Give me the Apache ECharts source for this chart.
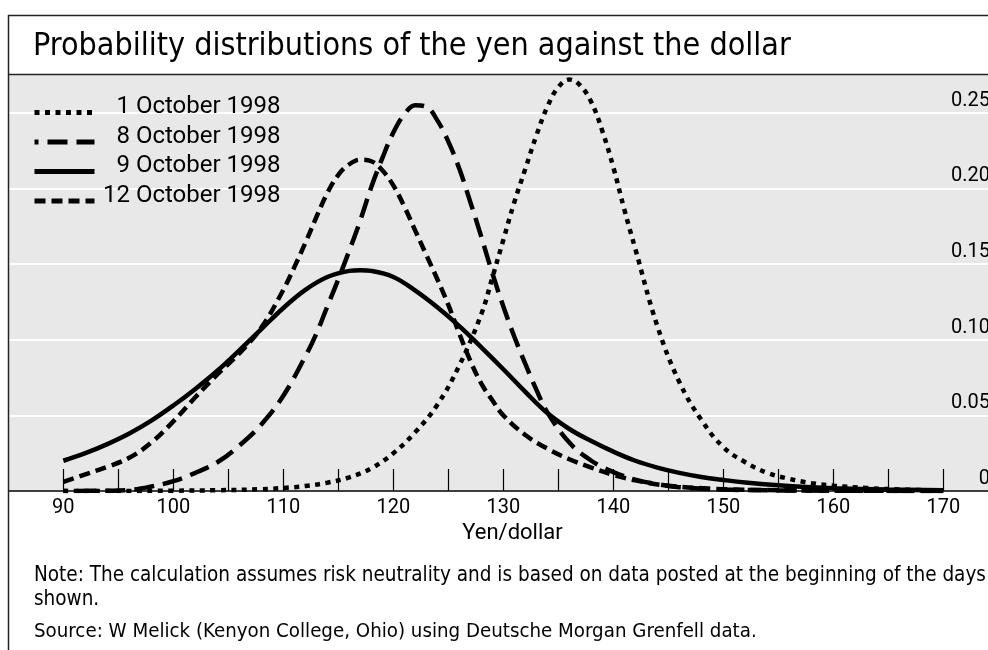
<!DOCTYPE html>
<html>
<head>
<meta charset="utf-8">
<title>Probability distributions of the yen against the dollar</title>
<script src="https://cdn.jsdelivr.net/npm/echarts@6/dist/echarts.min.js"></script>
<style>
  html, body { margin: 0; padding: 0; background: #fff; }
  #chart { width: 988px; height: 650px; }
</style>
</head>
<body>
<div id="chart"></div>
<script>
// yen per dollar (x) and probability density (y)
const oct1X = [90, 95, 100, 104, 108, 110, 112, 114, 116, 118, 120, 122, 124, 126, 128, 129, 130, 131, 132, 133, 134, 135, 136, 137, 138, 139, 140, 141, 142, 144, 146, 148, 150, 152, 154, 156, 158, 160, 163, 166, 170];
const oct1Y = [0, 0, 0.0002, 0.0005, 0.0012, 0.002, 0.0033, 0.0055, 0.009, 0.015, 0.025, 0.039, 0.057, 0.083, 0.117, 0.141, 0.166, 0.191, 0.213, 0.235, 0.254, 0.267, 0.272, 0.268, 0.257, 0.238, 0.214, 0.186, 0.160, 0.109, 0.072, 0.047, 0.029, 0.019, 0.012, 0.008, 0.0052, 0.0035, 0.002, 0.001, 0.0003];

const oct8X = [90, 94, 96, 98, 100, 102, 104, 106, 108, 110, 112, 113, 114, 115, 116, 117, 118, 119, 120, 121, 122, 123, 124, 125, 126, 127, 128, 129, 130, 131, 132, 133, 134, 136, 138, 140, 142, 144, 146, 150, 155, 160, 170];
const oct8Y = [0, 0.0002, 0.0007, 0.003, 0.0065, 0.012, 0.019, 0.030, 0.044, 0.063, 0.089, 0.104, 0.122, 0.140, 0.159, 0.179, 0.201, 0.220, 0.237, 0.249, 0.255, 0.254, 0.245, 0.231, 0.213, 0.191, 0.168, 0.144, 0.122, 0.102, 0.084, 0.067, 0.052, 0.032, 0.020, 0.0125, 0.0075, 0.0045, 0.0025, 0.001, 0.0004, 0.0002, 0];

const oct9X = [90, 92, 94, 96, 98, 100, 102, 104, 106, 108, 110, 112, 114, 116, 117, 118, 120, 122, 124, 126, 128, 130, 132, 134, 136, 138, 140, 142, 144, 146, 148, 150, 152, 155, 158, 160, 165, 170];
const oct9Y = [0.020, 0.025, 0.031, 0.038, 0.0465, 0.0565, 0.0675, 0.0795, 0.093, 0.107, 0.121, 0.133, 0.1415, 0.1455, 0.146, 0.1455, 0.1415, 0.1325, 0.1215, 0.109, 0.095, 0.0805, 0.0655, 0.0515, 0.041, 0.033, 0.026, 0.020, 0.0155, 0.012, 0.0093, 0.0073, 0.0056, 0.0038, 0.0025, 0.0019, 0.001, 0.0005];

const oct12X = [90, 92, 94, 96, 98, 100, 102, 104, 106, 108, 110, 111, 112, 113, 114, 115, 116, 117, 118, 119, 120, 121, 122, 123, 124, 125, 126, 127, 128, 129, 130, 132, 134, 136, 138, 140, 142, 145, 150, 155, 160, 170];
const oct12Y = [0.006, 0.011, 0.016, 0.022, 0.032, 0.046, 0.062, 0.077, 0.091, 0.108, 0.133, 0.148, 0.164, 0.181, 0.197, 0.209, 0.216, 0.219, 0.218, 0.212, 0.202, 0.188, 0.172, 0.156, 0.140, 0.123, 0.104, 0.086, 0.071, 0.060, 0.050, 0.037, 0.028, 0.021, 0.0155, 0.0106, 0.007, 0.0035, 0.0012, 0.0005, 0.0002, 0];

const seriesNames = ['1 October 1998', '8 October 1998', '9 October 1998', '12 October 1998'];
const xTicks = [90, 95, 100, 105, 110, 115, 120, 125, 130, 135, 140, 145, 150, 155, 160, 165, 170];
const xLabels = [90, 100, 110, 120, 130, 140, 150, 160, 170];

const titleText = 'Probability distributions of the yen against the dollar';
const noteText = 'Note: The calculation assumes risk neutrality and is based on data posted at the beginning of the days\nshown.';
const sourceText = 'Source: W Melick (Kenyon College, Ohio) using Deutsche Morgan Grenfell data.';

const narrow = "'Liberation Sans Narrow', 'DejaVu Sans Condensed', sans-serif";
const plain = "Roboto, 'Noto Sans', sans-serif";

function pairs(xs, ys) {
    return xs.map((x, i) => [x, ys[i]]);
}

function curve(name, xs, ys, dash, offset) {
    return {
        name: name,
        type: 'line',
        data: pairs(xs, ys),
        symbol: 'none',
        smooth: 0.4,
        silent: true,
        itemStyle: { color: '#000' },
        lineStyle: {
            color: '#000',
            width: 4.5,
            type: dash,
            dashOffset: offset || 0,
            cap: 'butt'
        }
    };
}

const chart = echarts.init(document.getElementById('chart'));

chart.setOption({
    animation: false,
    backgroundColor: '#fff',
    title: {
        text: titleText,
        left: 28,
        top: 26,
        textStyle: {
            fontFamily: narrow,
            fontSize: 32,
            fontWeight: 'normal',
            color: '#000'
        }
    },
    legend: {
        orient: 'vertical',
        left: 32,
        top: 95,
        padding: 0,
        itemWidth: 60,
        itemHeight: 14,
        itemGap: -5.5,
        selectedMode: false,
        data: seriesNames,
        lineStyle: { width: 5 },
        itemStyle: { opacity: 0 },
        formatter: name => '{t|' + name + '}',
        textStyle: {
            rich: {
                t: {
                    // legend text sits 5px after the icon; right-align the names at x = 280
                    width: 181,
                    align: 'right',
                    fontFamily: plain,
                    fontSize: 24,
                    lineHeight: 16,
                    padding: [0, 0, 11, 0],
                    color: '#000'
                }
            }
        }
    },
    grid: {
        left: 9,
        right: 0,
        top: 75,
        bottom: 159,
        outerBoundsMode: 'none',
        show: true,
        backgroundColor: '#e8e8e8',
        borderWidth: 0
    },
    xAxis: {
        type: 'value',
        min: 85.06,
        max: 174.06,
        name: 'Yen/dollar',
        nameLocation: 'middle',
        nameGap: 25,
        nameTextStyle: {
            fontFamily: plain,
            fontSize: 22,
            color: '#000',
            padding: [0, 0, 0, 28]
        },
        axisLine: { show: true, onZero: false, lineStyle: { color: '#000', width: 1.5 } },
        axisTick: {
            show: true,
            inside: true,
            length: 22,
            customValues: xTicks,
            lineStyle: { color: '#000', width: 1.2 }
        },
        axisLabel: {
            customValues: xLabels,
            margin: 7,
            fontFamily: plain,
            fontSize: 20,
            color: '#000'
        },
        splitLine: { show: false }
    },
    yAxis: {
        type: 'value',
        position: 'right',
        min: 0,
        max: 0.275,
        interval: 0.05,
        axisLine: { show: false },
        axisTick: { show: false },
        axisLabel: {
            inside: true,
            margin: -2,
            fontFamily: plain,
            fontSize: 20,
            color: '#000',
            verticalAlign: 'bottom',
            lineHeight: 20,
            padding: [0, 0, 2, 0],
            formatter: v => {
                if (v === 0) return '0';
                if (v > 0.26) return '';
                return v.toFixed(2);
            }
        },
        splitLine: {
            show: true,
            showMaxLine: false,
            lineStyle: { color: '#fff', width: 2 }
        }
    },
    graphic: [
        { type: 'line', z: 100, shape: { x1: 8, y1: 15.5, x2: 988, y2: 15.5 }, style: { stroke: '#222', lineWidth: 1.5 } },
        { type: 'line', z: 100, shape: { x1: 8, y1: 74.5, x2: 988, y2: 74.5 }, style: { stroke: '#222', lineWidth: 1.5 } },
        { type: 'line', z: 100, shape: { x1: 8.5, y1: 15, x2: 8.5, y2: 650 }, style: { stroke: '#222', lineWidth: 1.5 } },
        {
            type: 'text', z: 100, x: 34, y: 564,
            style: { text: noteText, font: '20.5px ' + narrow, fill: '#000', lineHeight: 24 }
        },
        {
            type: 'text', z: 100, x: 34, y: 622,
            style: { text: sourceText, font: '20.3px ' + narrow, fill: '#000' }
        }
    ],
    series: [
        curve(seriesNames[0], oct1X, oct1Y, [5, 5.5]),
        curve(seriesNames[1], oct8X, oct8Y, [20, 9], 16),
        curve(seriesNames[2], oct9X, oct9Y, 'solid'),
        curve(seriesNames[3], oct12X, oct12Y, [11, 6])
    ]
});
</script>
</body>
</html>
